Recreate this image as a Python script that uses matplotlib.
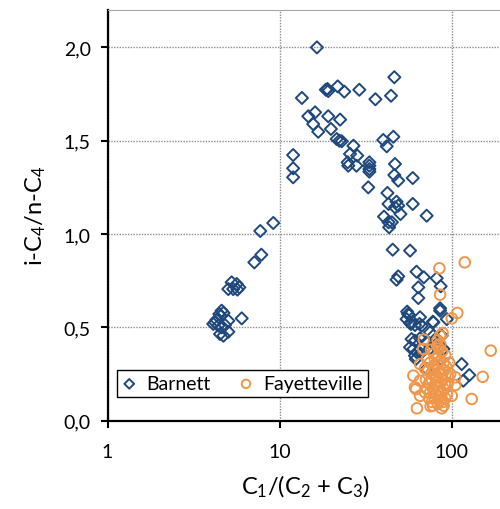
import matplotlib
matplotlib.use('Agg')
import matplotlib.pyplot as plt
from matplotlib import ticker

# 字体：用 Lato 代替 Calibri
plt.rcParams['font.family'] = ['Lato', 'DejaVu Sans']
plt.rcParams['mathtext.fontset'] = 'custom'
plt.rcParams['mathtext.rm'] = 'Lato'
plt.rcParams['mathtext.it'] = 'Lato:italic'

# Barnett 数据 (C1/(C2+C3), i-C4/n-C4)
barnett_x = [4.61, 4.72, 4.47, 4.22, 4.12, 4.41, 5.04, 4.51, 4.72, 5.04, 4.61, 4.82, 4.55, 4.30,
             5.27, 5.04, 5.64, 5.84, 5.69, 5.38, 6.03,
             7.14, 7.84, 7.73, 9.2,
             12.0, 12.0, 12.0,
             13.5, 16.5, 18.6, 19.0, 19.2, 21.8, 23.8, 29.1, 36.1, 44.5, 46.5,
             14.7, 16.1, 15.7, 16.8, 19.2, 22.5, 19.9, 21.5, 22.3, 23.0,
             40.1, 45.9, 42.0,
             26.9, 25.7, 28.3, 24.9, 25.1, 28.0, 33.3, 33.3, 33.3, 33.3, 46.9, 46.5, 49.0, 59.5,
             32.8, 42.4,
             43.0, 47.9, 49.0, 46.9, 50.5, 59.5, 40.5, 43.0, 45.0, 43.4, 71.7,
             45.5, 57.4, 49.0, 47.9, 62.6, 69.0, 82.0, 64.1, 86.5, 64.1, 85.8,
             55.2, 56.7, 65.6, 77.9, 58.1, 65.1, 93.9,
             55.9, 54.8, 57.4, 67.1, 61.3, 78.5, 85.8,
             58.6, 61.3, 65.6, 57.4, 60.1, 62.9, 61.3, 71.7, 75.0, 80.2, 85.8, 89.7, 78.5, 87.7, 75.0,
             114.6, 126.9, 117.1, 71.7, 62.0, 66.0, 80.0]
barnett_y = [0.589, 0.577, 0.571, 0.527, 0.518, 0.509, 0.535, 0.464, 0.455, 0.476, 0.500, 0.512, 0.560, 0.540,
             0.741, 0.705, 0.732, 0.714, 0.702, 0.705, 0.548,
             0.848, 0.889, 1.016, 1.059,
             1.423, 1.352, 1.304,
             1.729, 2.000, 1.773, 1.777, 1.766, 1.791, 1.763, 1.773, 1.722, 1.741, 1.840,
             1.631, 1.652, 1.589, 1.548, 1.631, 1.613, 1.563, 1.509, 1.500, 1.497,
             1.504, 1.521, 1.470,
             1.473, 1.429, 1.420, 1.384, 1.366, 1.366, 1.384, 1.366, 1.348, 1.334, 1.375, 1.316, 1.286, 1.300,
             1.250, 1.220,
             1.161, 1.173, 1.152, 1.143, 1.107, 1.161, 1.093, 1.063, 1.063, 1.036, 1.098,
             0.916, 0.911, 0.773, 0.755, 0.798, 0.768, 0.763, 0.714, 0.720, 0.657, 0.602,
             0.584, 0.566, 0.554, 0.530, 0.518, 0.518, 0.544,
             0.571, 0.544, 0.523, 0.509, 0.512, 0.527, 0.589,
             0.437, 0.428, 0.441, 0.393, 0.384, 0.366, 0.348, 0.420, 0.387, 0.401, 0.393, 0.384, 0.455, 0.455, 0.473,
             0.303, 0.244, 0.214, 0.277, 0.330, 0.360, 0.300]

# Fayetteville 数据
fay_x = [85.0, 119.4, 85.8, 108.0, 100.3, 88.8, 85.8, 69.0, 68.4, 83.0, 84.6, 169.0, 151.8, 131.0,
         100.3, 62.9, 75.5, 87.7, 105.2, 60.0, 61.3, 62.2, 65.6, 65.6, 70.0, 98.3, 105.2, 65.6,
         72, 75, 78, 80, 83, 86, 90, 93,
         73, 76, 79, 82, 85, 88, 91, 95,
         71, 74, 77, 80, 83, 86, 89, 92,
         72, 75, 78, 81, 84, 87, 90, 94,
         74, 77, 80, 83, 86, 89, 92,
         79, 84, 88, 76, 81, 85, 78, 90, 95, 97, 70, 92, 83, 86]
fay_y = [0.816, 0.848, 0.675, 0.577, 0.548, 0.469, 0.455, 0.434, 0.384, 0.401, 0.387, 0.375, 0.235, 0.116,
         0.133, 0.066, 0.077, 0.066, 0.191, 0.241, 0.178, 0.169, 0.214, 0.133, 0.152, 0.250, 0.232, 0.303,
         0.33, 0.31, 0.29, 0.33, 0.30, 0.32, 0.31, 0.29,
         0.27, 0.25, 0.27, 0.24, 0.26, 0.25, 0.27, 0.24,
         0.22, 0.20, 0.22, 0.19, 0.21, 0.20, 0.22, 0.19,
         0.17, 0.15, 0.17, 0.14, 0.16, 0.15, 0.17, 0.14,
         0.12, 0.10, 0.12, 0.09, 0.11, 0.10, 0.12,
         0.36, 0.35, 0.37, 0.38, 0.23, 0.13, 0.08, 0.08, 0.20, 0.31, 0.28, 0.35, 0.43, 0.41]

blue = '#1F497D'
orange = '#F0964A'

fig = plt.figure(figsize=(5.0, 5.1), dpi=100)
ax = fig.add_axes([0.215, 0.1733, 0.7916, 0.805])

ax.scatter(barnett_x, barnett_y, marker='D', s=38, facecolors='none',
           edgecolors=blue, linewidths=1.4, label='Barnett', zorder=3)
ax.scatter(fay_x, fay_y, marker='o', s=58, facecolors='none',
           edgecolors=orange, linewidths=1.4, label='Fayetteville', zorder=4)

ax.set_xscale('log')
ax.set_xlim(1, 200)
ax.set_ylim(0, 2.2)
ax.set_xticks([1, 10, 100])
ax.xaxis.set_major_formatter(ticker.FixedFormatter(['1', '10', '100']))
ax.xaxis.set_minor_locator(ticker.NullLocator())
ax.set_yticks([0, 0.5, 1.0, 1.5, 2.0])
ax.yaxis.set_major_formatter(ticker.FuncFormatter(lambda v, p: f'{v:.1f}'.replace('.', ',')))

ax.grid(True, linestyle=(0, (1, 1)), color='#8C8C8C', linewidth=1.0)
ax.set_axisbelow(True)

for s in ['left', 'bottom']:
    ax.spines[s].set_linewidth(1.6)
    ax.spines[s].set_color('black')
for s in ['top', 'right']:
    ax.spines[s].set_linewidth(0.8)
    ax.spines[s].set_color('#A6A6A6')

ax.tick_params(axis='both', direction='out', length=5, width=1.5, color='black', labelsize=14)
ax.tick_params(axis='y', pad=7)
ax.tick_params(axis='x', pad=11)

ax.set_xlabel(r'C$_1$/(C$_2$ + C$_3$)', fontsize=17, labelpad=9)
ax.set_ylabel(r'i-C$_4$/n-C$_4$', fontsize=17, labelpad=11)

leg = ax.legend(loc='lower left', bbox_to_anchor=(0.023, 0.058), ncol=2, fontsize=14,
                frameon=True, fancybox=False, edgecolor='black', framealpha=1,
                handlelength=0.8, handletextpad=0.5, columnspacing=1.4,
                borderpad=0.25, borderaxespad=0, markerscale=0.8)
leg.get_frame().set_linewidth(1.0)

plt.savefig('out.png', dpi=100)
